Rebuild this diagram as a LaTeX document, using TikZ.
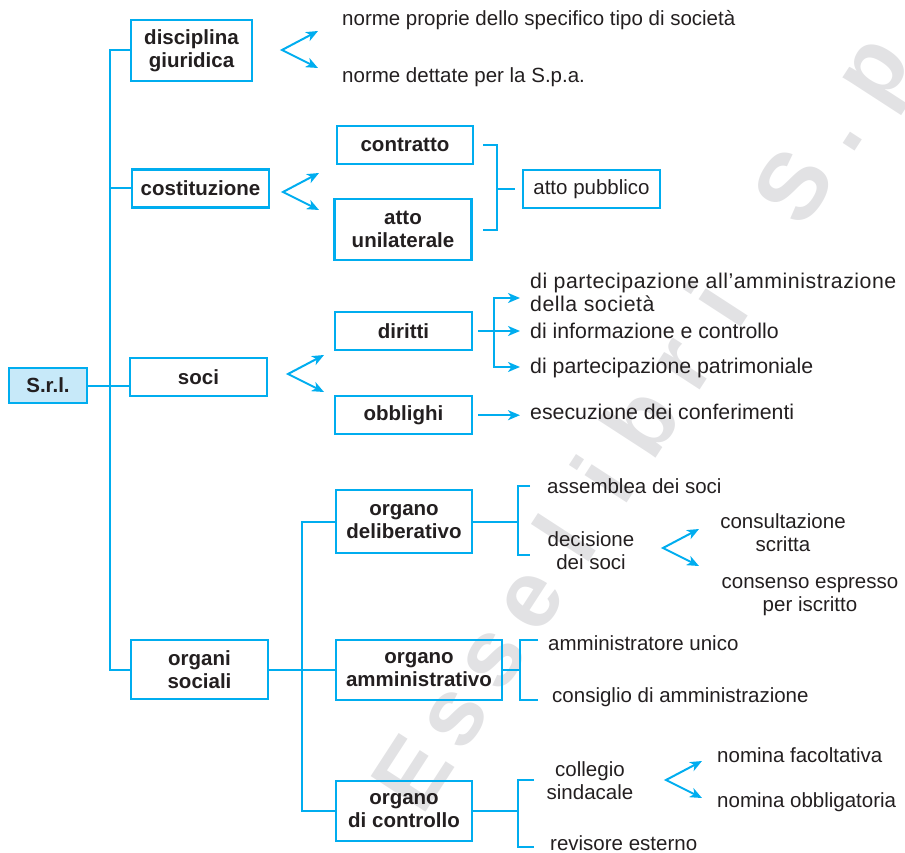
\documentclass[tikz,border=0pt]{standalone}
\usepackage{fontspec}
\setmainfont{Liberation Sans}
\usepackage{tikz}
\usetikzlibrary{arrows.meta, positioning, calc}

\definecolor{azzurro}{RGB}{0,173,239}
\definecolor{srlfill}{RGB}{199,233,249}
\definecolor{testo}{RGB}{35,31,32}
\definecolor{filigrana}{RGB}{226,226,228}

\begin{document}
\begin{tikzpicture}[
        x=1pt, y=-1pt,
        font=\fontsize{20.5}{23}\selectfont,
        text=testo,
        box/.style={rectangle, draw=azzurro, line width=2.2pt, font=\fontsize{20.5}{23}\selectfont\bfseries, align=center, minimum width=137pt, minimum height=38pt, inner sep=2pt},
        tall/.style={box, minimum height=61pt},
        plain/.style={box, font=\fontsize{20.5}{23}\selectfont},
        voce/.style={inner sep=0pt, anchor=base west},
        voce2/.style={inner sep=0pt, align=center},
        largo/.style={font=\fontsize{21.3}{23}\selectfont},
        line/.style={draw=azzurro, line width=2pt},
        arrow/.style={line, -{Stealth[length=12pt, width=10pt, inset=3.5pt]}},
        fork/.style={line, {Stealth[length=12pt, width=10pt, inset=3.5pt]}-{Stealth[length=12pt, width=10pt, inset=3.5pt]}},
        wm/.style={text=filigrana, font=\fontsize{95}{95}\selectfont\bfseries, rotate=57, anchor=base, inner sep=0pt}
    ]
    \useasboundingbox (0,0) rectangle (905,853);

    % filigrana
    \foreach \ch [count=\i from 0] in {E,s,s,e,l,i,b,r,i,{},S,.,p}
        \node[wm] (wm\i) at ({440+38.1*\i},{791-58.7*\i}) {\ch};

    % radice e primo livello
    \node[box, fill=srlfill, minimum width=78pt, minimum height=35pt] (srl) at (48,385.5) {S.r.l.};
    \node[tall, minimum width=121pt] (disc) at (191.5,50.5) {disciplina\\giuridica};
    \node[box] (cost) at (200.5,188.5) {costituzione};
    \node[box] (soci) at (198.5,377) {soci};
    \node[tall, minimum height=59pt] (organi) at (199.5,669.5) {organi\\sociali};

    % disciplina giuridica
    \node[voce] (norme1) at (342,26) {norme proprie dello specifico tipo di società};
    \node[voce] (norme2) at (342,83) {norme dettate per la S.p.a.};

    % costituzione
    \node[box, minimum width=136pt] (contr) at (405,145) {contratto};
    \node[tall, below=33pt of contr, xshift=-2pt] (unil) {atto\\unilaterale};
    \node[plain] (pubbl) at (591.5,189) {atto pubblico};

    % soci
    \node[box] (dir) at (403.5,331) {diritti};
    \node[box, below=44pt of dir] (obbl) {obblighi};
    \node[voce2, largo, anchor=west, align=left] (dir1) at (530,292) {\addfontfeature{LetterSpace=2.5}di partecipazione all’amministrazione\\\addfontfeature{LetterSpace=2.5}della società};
    \node[voce, largo] (dir2) at (530,338) {di informazione e controllo};
    \node[voce, largo] (dir3) at (530,373) {di partecipazione patrimoniale};
    \node[voce, largo] (obbl1) at (530,419) {esecuzione dei conferimenti};

    % organi sociali
    \node[tall, minimum width=136pt, minimum height=63pt] (delib) at (404,521.5) {organo\\deliberativo};
    \node[tall, minimum width=166pt, minimum height=60pt] (ammin) at (419,670) {organo\\amministrativo};
    \node[tall, minimum width=136pt, minimum height=60pt] (contro) at (404,811) {organo\\di controllo};
    \node[voce] (ass) at (547,493) {assemblea dei soci};
    \node[voce2] (dec) at (591,551) {decisione\\dei soci};
    \node[voce2] (consu) at (783,533) {consultazione\\scritta};
    \node[voce2] (conse) at (810,597) {consenso espresso\\per iscritto};
    \node[voce] (ammu) at (548,650) {amministratore unico};
    \node[voce] (cda) at (552,702) {consiglio di amministrazione};
    \node[voce2] (coll) at (590,781) {collegio\\sindacale};
    \node[voce] (rev) at (550,850) {revisore esterno};
    \node[voce] (nomf) at (717,762) {nomina facoltativa};
    \node[voce] (nomo) at (717,807) {nomina obbligatoria};

    % tronco principale
    \coordinate (tronco) at (110,0);
    \draw[line] (disc.west) -- (disc.west -| tronco) |- (organi.west);
    \draw[line] (cost.west) -- (cost.west -| tronco);
    \draw[line] (srl.east) -- (srl.east -| soci.west);

    % biforcazioni
    \coordinate (fdisc) at (282,50);
    \coordinate (fcost) at (283,192);
    \coordinate (fsoci) at (288,374);
    \coordinate (fdec) at (663,548);
    \coordinate (fcoll) at (666,780);
    \foreach \f in {fdisc,fcost,fsoci,fdec,fcoll}
        \draw[fork] ($(\f)+(36,-19)$) -- (\f) -- ($(\f)+(36,18)$);

    % costituzione -> atto pubblico
    \coordinate (gc) at (497,189);
    \draw[line] ([xshift=9pt]contr.east) -| (gc) |- ([xshift=10pt]unil.east);
    \draw[line] (gc) -- ([xshift=-7pt]pubbl.west);

    % diritti e obblighi
    \coordinate (dtop) at (494,298);
    \coordinate (dbot) at (494,367);
    \draw[fork] ([xshift=26pt]dtop) -- (dtop) -- (dbot) -- ([xshift=26pt]dbot);
    \draw[arrow] ([xshift=5pt]dir.east) -- ([xshift=-10pt]dir.east -| dir2.west);
    \draw[arrow] ([xshift=5pt]obbl.east) -- ([xshift=-10pt]obbl.east -| obbl1.west);

    % organi sociali
    \coordinate (ramo) at (302,0);
    \draw[line] (organi.east) -- (organi.east -| ammin.west);
    \draw[line] (delib.west) -- (delib.west -| ramo) |- (contro.west);

    % parentesi
    \coordinate (dl1) at (518,486);
    \coordinate (dl2) at (518,555);
    \draw[line] (delib.east) -- (delib.east -| dl1);
    \draw[line] ([xshift=12pt]dl1) -- (dl1) -- (dl2) -- ([xshift=12pt]dl2);
    \coordinate (am1) at (520,640);
    \coordinate (am2) at (520,700);
    \draw[line] (ammin.east) -- (ammin.east -| am1);
    \draw[line] ([xshift=18pt]am1) -- (am1) -- (am2) -- ([xshift=18pt]am2);
    \coordinate (co1) at (518,780);
    \coordinate (co2) at (518,847);
    \draw[line] (contro.east) -- (contro.east -| co1);
    \draw[line] ([xshift=16pt]co1) -- (co1) -- (co2) -- ([xshift=16pt]co2);

\end{tikzpicture}
\end{document}
